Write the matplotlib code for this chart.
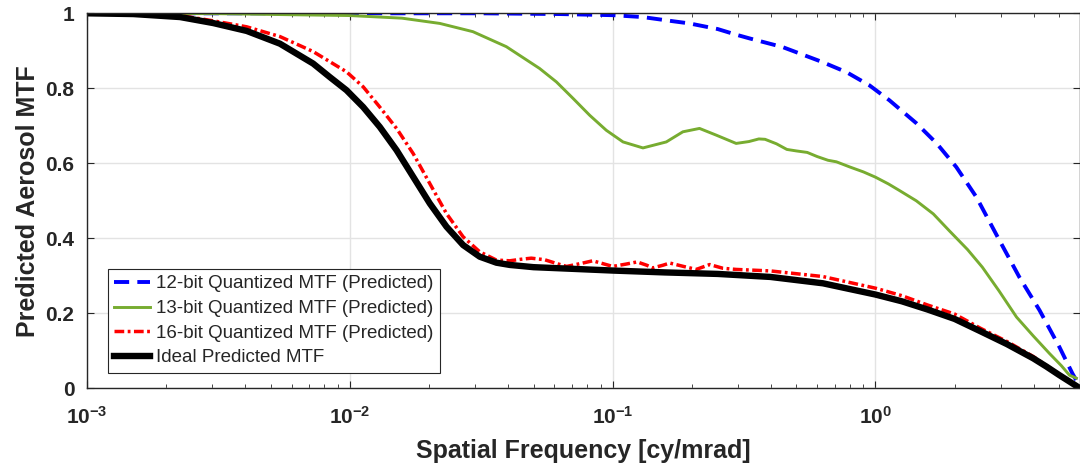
import numpy as np
import matplotlib
matplotlib.use("Agg")
from matplotlib import pyplot as plt
from matplotlib.ticker import FixedLocator, FuncFormatter, LogLocator, NullFormatter

plt.rcParams['font.family'] = ['Liberation Sans', 'DejaVu Sans']
plt.rcParams['mathtext.fontset'] = 'custom'
plt.rcParams['mathtext.rm'] = 'Liberation Sans:bold'
plt.rcParams['mathtext.it'] = 'Liberation Sans:bold'
plt.rcParams['mathtext.bf'] = 'Liberation Sans:bold'

# 12-bit quantized (predicted)
freq_12 = [0.001, 0.0316, 0.0631, 0.1, 0.13, 0.169, 0.196, 0.251, 0.295, 0.332, 0.443, 0.514,
           0.628, 0.776, 0.948, 1.13, 1.43, 1.71, 2.03, 2.42, 2.96, 3.53, 4.21, 5.01, 5.61, 5.82]
mtf_12 = [1.0, 1.0, 0.998, 0.995, 0.99, 0.979, 0.973, 0.958, 0.943, 0.933, 0.91, 0.893,
          0.87, 0.843, 0.808, 0.768, 0.707, 0.653, 0.59, 0.51, 0.395, 0.296, 0.208, 0.11, 0.04, 0.02]

# 13-bit quantized (predicted)
freq_13 = [0.001, 0.00316, 0.01, 0.0158, 0.022, 0.0294, 0.0394, 0.0527, 0.0611, 0.0707,
           0.0818, 0.0946, 0.1095, 0.1304, 0.16, 0.185, 0.214, 0.248, 0.295, 0.33, 0.36,
           0.38, 0.42, 0.46, 0.5, 0.55, 0.6, 0.66, 0.71, 0.8, 0.9, 1.0, 1.12, 1.23, 1.43,
           1.66, 1.91, 2.24, 2.55, 2.95, 3.44, 3.98, 4.59, 5.1, 5.47, 5.81]
mtf_13 = [1.0, 0.999, 0.994, 0.987, 0.973, 0.951, 0.911, 0.853, 0.817, 0.773,
          0.728, 0.688, 0.657, 0.641, 0.657, 0.684, 0.693, 0.675, 0.653, 0.658, 0.665,
          0.664, 0.652, 0.637, 0.633, 0.629, 0.618, 0.608, 0.604, 0.59, 0.577, 0.563, 0.545,
          0.528, 0.5, 0.465, 0.42, 0.37, 0.323, 0.26, 0.19, 0.14, 0.093, 0.06, 0.035, 0.027]

# 16-bit quantized (predicted)
freq_16 = [0.001, 0.00226, 0.00302, 0.00405, 0.00542, 0.00725, 0.00971, 0.01124, 0.013,
           0.01506, 0.01742, 0.02015, 0.02332, 0.02698, 0.0312, 0.0361, 0.0406, 0.0447,
           0.049, 0.055, 0.0617, 0.0668, 0.0759, 0.084, 0.0912, 0.1, 0.112, 0.124, 0.135,
           0.142, 0.155, 0.165, 0.186, 0.208, 0.234, 0.263, 0.295, 0.398, 0.631, 1.0, 1.26,
           1.58, 2.0, 2.51, 3.16, 3.98, 5.01, 6.0]
mtf_16 = [1.0, 0.994, 0.98, 0.964, 0.938, 0.898, 0.844, 0.804, 0.75,
          0.693, 0.626, 0.546, 0.466, 0.404, 0.364, 0.342, 0.34, 0.344,
          0.347, 0.343, 0.332, 0.325, 0.333, 0.34, 0.333, 0.325, 0.331, 0.337, 0.328,
          0.321, 0.328, 0.334, 0.325, 0.317, 0.33, 0.32, 0.317, 0.313, 0.298, 0.267, 0.247,
          0.222, 0.198, 0.16, 0.125, 0.085, 0.037, 0.0]

# ideal predicted
freq_ideal = [0.001, 0.0015, 0.00226, 0.00302, 0.00405, 0.00542, 0.00725, 0.00839, 0.00971,
              0.01124, 0.013, 0.01506, 0.01742, 0.02015, 0.02332, 0.02698, 0.0312, 0.0361,
              0.0406, 0.05, 0.0631, 0.1, 0.158, 0.251, 0.398, 0.631, 0.794, 1.0, 1.26, 1.58,
              2.0, 2.51, 3.16, 3.98, 4.47, 5.01, 5.5, 6.0]
mtf_ideal = [1.0, 0.998, 0.99, 0.974, 0.953, 0.919, 0.866, 0.83, 0.795,
             0.75, 0.697, 0.635, 0.564, 0.493, 0.431, 0.382, 0.351, 0.335,
             0.329, 0.323, 0.32, 0.314, 0.309, 0.305, 0.297, 0.28, 0.265, 0.25, 0.232, 0.21,
             0.185, 0.152, 0.118, 0.08, 0.058, 0.035, 0.017, 0.0]

labels = ['12-bit Quantized MTF (Predicted)', '13-bit Quantized MTF (Predicted)',
          '16-bit Quantized MTF (Predicted)', 'Ideal Predicted MTF']
y_ticks = [0, 0.2, 0.4, 0.6, 0.8, 1]

txt = '#262626'
fig = plt.figure(figsize=(10.8, 4.67), dpi=100)
ax = fig.add_axes([87 / 1080, 78.7 / 467, 993 / 1080, 375 / 467])

ax.plot(freq_12, mtf_12, color='#0000ff', lw=2.8, ls=(0, (3.9, 2.1)), label=labels[0])
ax.plot(freq_13, mtf_13, color='#77ac30', lw=2.1, ls='-', label=labels[1])
ax.plot(freq_16, mtf_16, color='#ff0000', lw=2.5, ls=(0, (2.8, 1.0, 0.8, 1.0)), label=labels[2])
ax.plot(freq_ideal, mtf_ideal, color='black', lw=4.6, ls='-', label=labels[3])

ax.set_xscale('log')
ax.set_xlim(1e-3, 6)
ax.set_ylim(0, 1)
ax.xaxis.set_major_locator(FixedLocator([1e-3, 1e-2, 1e-1, 1e0]))
ax.xaxis.set_major_formatter(FuncFormatter(lambda v, p: r'$10^{%d}$' % round(np.log10(v))))
ax.xaxis.set_minor_locator(LogLocator(base=10, subs=np.arange(2, 10)))
ax.xaxis.set_minor_formatter(NullFormatter())
ax.yaxis.set_major_locator(FixedLocator(y_ticks))
ax.yaxis.set_major_formatter(FuncFormatter(lambda v, p: '%g' % v))

ax.grid(True, which='major', color='#e3e3e3', lw=1.0)
ax.set_axisbelow(True)
ax.tick_params(which='both', direction='in', top=True, right=True, colors=txt, labelsize=15)
ax.tick_params(axis='x', which='major', pad=13)
ax.tick_params(axis='y', which='major', pad=9)
ax.tick_params(which='major', length=5, width=0.8)
ax.tick_params(which='minor', length=3, width=0.6)
for lbl in ax.get_yticklabels():
    lbl.set_fontweight('bold')
for s in ax.spines.values():
    s.set_color(txt)
    s.set_linewidth(1.0)

ax.set_xlabel('Spatial Frequency [cy/mrad]', fontsize=18, fontweight='bold', color=txt, labelpad=8)
ax.set_ylabel('Predicted Aerosol MTF', fontsize=18, fontweight='bold', color=txt, labelpad=4)

leg = ax.legend(loc='lower left', bbox_to_anchor=(0.021, 0.041), borderaxespad=0,
                fontsize=13.5, fancybox=False, framealpha=1, edgecolor=txt,
                handlelength=1.9, handletextpad=0.3, labelspacing=0.4, borderpad=0.35)
leg.get_frame().set_linewidth(0.8)
for t in leg.get_texts():
    t.set_color(txt)

fig.savefig('out.png', dpi=100)
